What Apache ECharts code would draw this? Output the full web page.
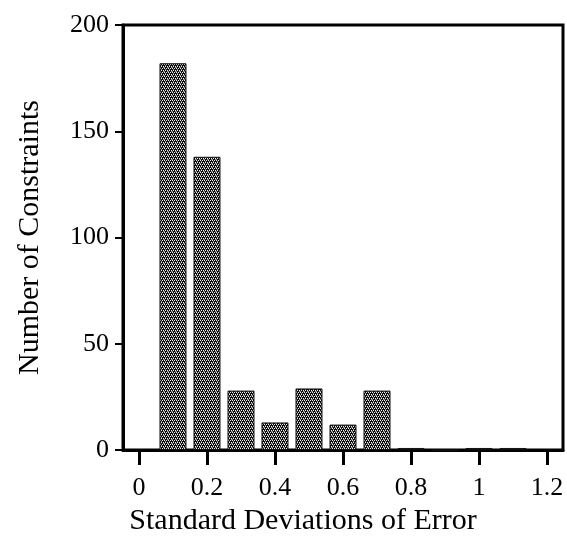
<!DOCTYPE html>
<html>
<head>
<meta charset="utf-8">
<script src="https://cdn.jsdelivr.net/npm/echarts@6/dist/echarts.min.js"></script>
<style>
  html, body { margin: 0; padding: 0; background: #fff; }
  #chart { width: 567px; height: 541px; }
</style>
</head>
<body>
<div id="chart"></div>
<script>
// bin centres and counts
const binCentres = [0.1, 0.2, 0.3, 0.4, 0.5, 0.6, 0.7, 0.8, 0.9, 1.0, 1.1];
const counts = [182, 138, 28, 13, 29, 12, 28, 1, 0, 1, 1];
const xTicks = [0, 0.2, 0.4, 0.6, 0.8, 1, 1.2];
const yTicks = [0, 50, 100, 150, 200];

const FONT = "'Liberation Serif', 'Times New Roman', serif";

// halftone-ish fill like the scanned bars
function makePattern() {
  const c = document.createElement('canvas');
  c.width = 4;
  c.height = 4;
  const ctx = c.getContext('2d');
  ctx.fillStyle = '#0a0a0a';
  ctx.fillRect(0, 0, 4, 4);
  ctx.fillStyle = '#eee';
  [[0, 0], [2, 0], [1, 2], [3, 2]].forEach(p => ctx.fillRect(p[0], p[1], 1, 1));
  ctx.fillStyle = '#888';
  [[1, 1], [3, 3], [0, 3]].forEach(p => ctx.fillRect(p[0], p[1], 1, 1));
  return c;
}

const chart = echarts.init(document.getElementById('chart'), null, { renderer: 'canvas' });

const option = {
  backgroundColor: '#fff',
  animation: false,
  grid: {
    left: 123,
    right: 4,
    top: 25,
    bottom: 89,
    show: true,
    borderColor: '#000',
    borderWidth: 3,
    backgroundColor: 'transparent'
  },
  xAxis: {
    type: 'value',
    min: -0.047,
    max: 1.247,
    name: 'Standard Deviations of Error',
    nameLocation: 'middle',
    nameGap: 42,
    nameTextStyle: {
      fontFamily: FONT,
      fontSize: 30,
      color: '#000',
      padding: [0, 80, 0, 0]
    },
    axisLine: { show: true, onZero: false, lineStyle: { color: '#000', width: 3 } },
    axisTick: {
      show: true,
      customValues: xTicks,
      length: 15,
      lineStyle: { color: '#000', width: 3 }
    },
    axisLabel: {
      customValues: xTicks,
      margin: 25,
      fontFamily: FONT,
      fontSize: 26,
      color: '#000',
      formatter: v => String(+v.toFixed(1))
    },
    splitLine: { show: false }
  },
  yAxis: {
    type: 'value',
    min: 0,
    max: 200,
    name: 'Number of Constraints',
    nameLocation: 'middle',
    nameGap: 78,
    nameTextStyle: {
      fontFamily: FONT,
      fontSize: 30,
      color: '#000'
    },
    axisLine: { show: true, onZero: false, lineStyle: { color: '#000', width: 3 } },
    axisTick: {
      show: true,
      customValues: yTicks,
      length: 8,
      lineStyle: { color: '#000', width: 2 }
    },
    axisLabel: {
      customValues: yTicks,
      margin: 14,
      fontFamily: FONT,
      fontSize: 26,
      color: '#000'
    },
    splitLine: { show: false }
  },
  series: [{
    type: 'bar',
    barWidth: 27,
    data: binCentres.map((x, i) => [x, counts[i]]),
    itemStyle: {
      color: { image: makePattern(), repeat: 'repeat' },
      borderColor: '#111',
      borderWidth: 1
    }
  }]
};

chart.setOption(option);
</script>
</body>
</html>
